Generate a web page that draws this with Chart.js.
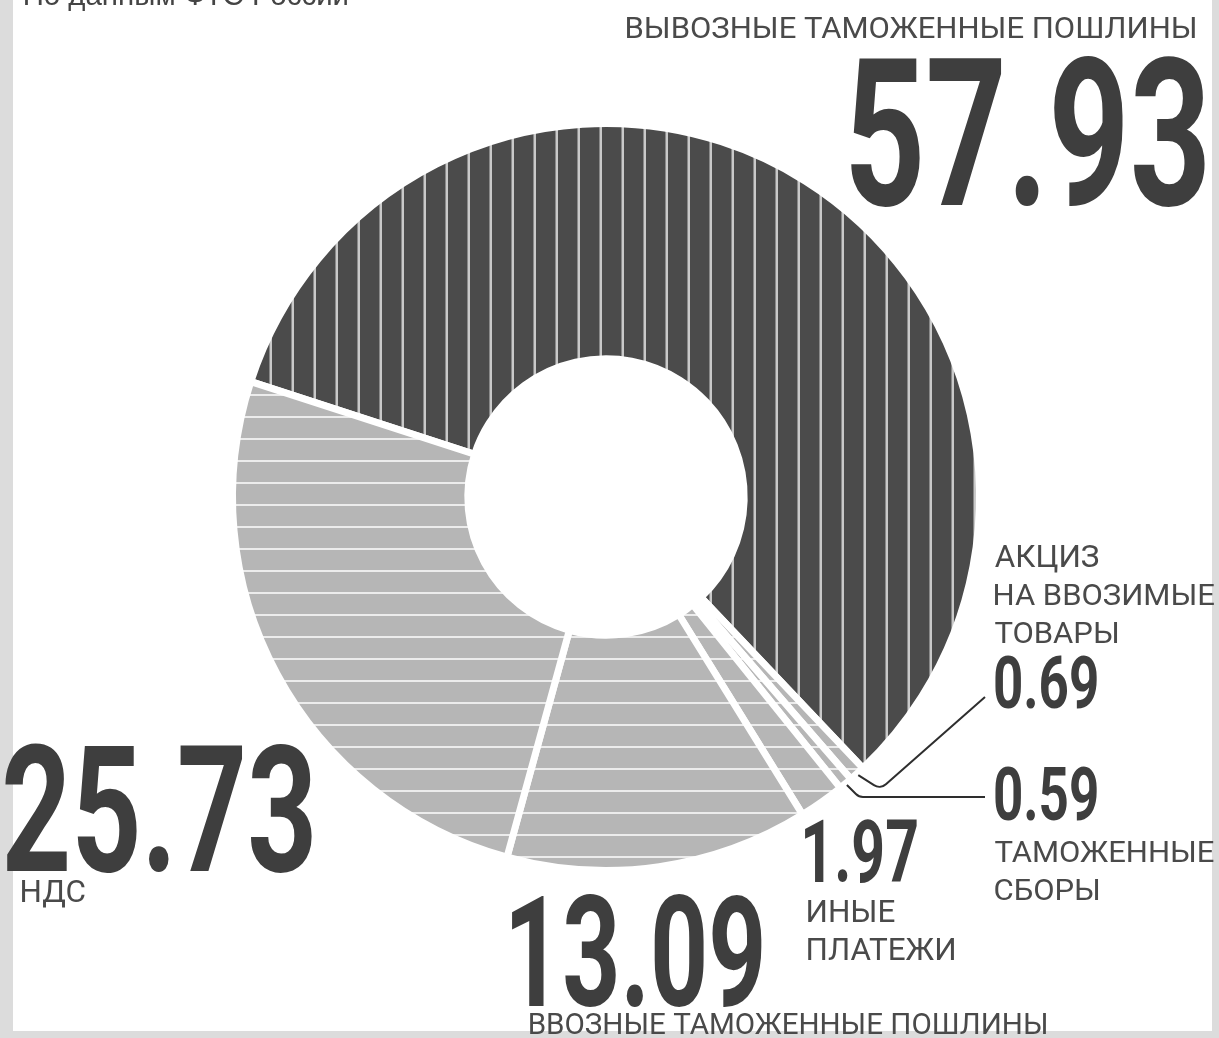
<!DOCTYPE html>
<html lang="ru">
<head>
<meta charset="utf-8">
<title>Таможенные платежи</title>
<script src="https://cdn.jsdelivr.net/npm/chart.js@4.4.1/dist/chart.umd.min.js"></script>
<style>
  html, body { margin: 0; padding: 0; background: #fff; }
  #wrap { width: 1219px; height: 1038px; position: relative; overflow: hidden; }
</style>
</head>
<body>
<div id="wrap"><canvas id="chart" width="1219" height="1038"></canvas></div>
<script>
// Data (shares, %)
const categories = ['Вывозные таможенные пошлины', 'Акциз на ввозимые товары', 'Таможенные сборы', 'Иные платежи', 'Ввозные таможенные пошлины', 'НДС'];
const shares = [57.93, 0.69, 0.59, 1.97, 13.09, 25.73];
const captions = [
  ['ВЫВОЗНЫЕ ТАМОЖЕННЫЕ ПОШЛИНЫ'],
  ['АКЦИЗ', 'НА ВВОЗИМЫЕ', 'ТОВАРЫ'],
  ['ТАМОЖЕННЫЕ', 'СБОРЫ'],
  ['ИНЫЕ', 'ПЛАТЕЖИ'],
  ['ВВОЗНЫЕ ТАМОЖЕННЫЕ ПОШЛИНЫ'],
  ['НДС']
];
const sourceNote = 'По данным ФТС России';

// Where the texts sit (baseline y, cap height, width)
const numberPos = [
  { x: 1205, y: 205, cap: 150, w: 354, align: 'right' },
  { x: 995, y: 708, cap: 53, w: 102 },
  { x: 995, y: 820, cap: 54, w: 102 },
  { x: 805, y: 882, cap: 64, w: 112 },
  { x: 512, y: 1006, cap: 113, w: 250 },
  { x: 5, y: 871, cap: 128, w: 307 }
];
const captionPos = [
  { x: 1195, y: 38, align: 'right' },
  { x: 995, y: 567 },
  { x: 995, y: 862 },
  { x: 808, y: 922 },
  { x: 530, y: 1034, w: 516 },
  { x: 22, y: 902 }
];
const CAPTION_CAP = 22;
const CAPTION_GAP = 38;
const NUM_FONT = '700 100px Roboto, "Liberation Sans", sans-serif';
const CAP_FONT = '400 100px Roboto, "Liberation Sans", sans-serif';

const canvas = document.getElementById('chart');
const ctx = canvas.getContext('2d');

function stripes(base, line, vertical) {
  const c = document.createElement('canvas');
  c.width = 22; c.height = 22;
  const g = c.getContext('2d');
  g.fillStyle = base;
  g.fillRect(0, 0, 22, 22);
  g.fillStyle = line;
  if (vertical) g.fillRect(5.5, 0, 2.5, 22);
  else g.fillRect(0, 20, 22, 2);
  return ctx.createPattern(c, 'repeat');
}
const darkFill = stripes('#4b4b4b', '#c9c9c9', true);
const lightFill = stripes('#b6b6b6', '#ececec', false);

// natural size of a string at 100px
function box(c, font, text) {
  c.font = font;
  const m = c.measureText(text);
  return { left: m.actualBoundingBoxLeft, w: m.actualBoundingBoxLeft + m.actualBoundingBoxRight, asc: m.actualBoundingBoxAscent };
}

// draw text with given cap height; either fit to a width or squeeze by sx
function drawText(c, font, text, x, y, cap, sx, width, align, color) {
  const b = box(c, font, text);
  const sy = cap / b.asc;
  const kx = width ? width / b.w : sx * sy;
  const w = b.w * kx;
  const left = align === 'right' ? x - w : x;
  c.save();
  c.fillStyle = color;
  c.translate(left, y);
  c.scale(kx, sy);
  c.textBaseline = 'alphabetic';
  c.fillText(text, b.left, 0);
  c.restore();
}

const pagePlugin = {
  id: 'page',
  beforeDraw(chart) {
    const c = chart.ctx;
    c.save();
    c.fillStyle = '#dcdcdc';
    c.fillRect(0, 0, chart.width, chart.height);
    c.fillStyle = '#ffffff';
    c.fillRect(13, 0, 1199, 1031);
    c.restore();
  }
};

const labelsPlugin = {
  id: 'labels',
  afterDraw(chart) {
    const c = chart.ctx;
    const cb = box(c, CAP_FONT, captions[0][0]);
    const capSx = (568 / CAPTION_CAP) / (cb.w / cb.asc);

    shares.forEach((v, i) => {
      const p = numberPos[i];
      drawText(c, NUM_FONT, v.toFixed(2), p.x, p.y, p.cap, 0, p.w, p.align, '#3e3e3e');
      const q = captionPos[i];
      captions[i].forEach((line, k) => {
        drawText(c, CAP_FONT, line, q.x, q.y + k * CAPTION_GAP, CAPTION_CAP, capSx, q.w, q.align, '#4a4a4a');
      });
    });

    // source note (cut by the top edge)
    drawText(c, '400 100px "Liberation Sans", sans-serif', sourceNote, 25, 5, 21, 0, 322, 'left', '#444');

    // leader lines for the two small slices
    const arcs = chart.getDatasetMeta(0).data;
    const tip = (el) => {
      const a = (el.startAngle + el.endAngle) / 2;
      const r = el.outerRadius + 2;
      return { x: el.x + Math.cos(a) * r, y: el.y + Math.sin(a) * r };
    };
    c.save();
    c.strokeStyle = '#2e2e2e';
    c.lineWidth = 2;
    c.lineJoin = 'round';
    // 0.69
    let p = tip(arcs[1]);
    c.beginPath();
    c.moveTo(p.x, p.y);
    c.arcTo(p.x + 22, p.y + 14, 985, 697, 10);
    c.lineTo(985, 697);
    c.stroke();
    // 0.59
    p = tip(arcs[2]);
    const ey = 797;
    c.beginPath();
    c.moveTo(p.x, p.y);
    c.arcTo(p.x + (ey - p.y), ey, 985, ey, 10);
    c.lineTo(985, ey);
    c.stroke();
    c.restore();
  }
};

new Chart(ctx, {
  type: 'doughnut',
  data: {
    labels: categories,
    datasets: [{
      data: shares,
      backgroundColor: shares.map((v, i) => i === 0 ? darkFill : lightFill),
      borderColor: '#ffffff',
      borderWidth: 7,
      hoverOffset: 0
    }]
  },
  options: {
    responsive: false,
    animation: false,
    events: [],
    rotation: 288,
    cutout: '37%',
    layout: { padding: { left: 229, right: 236, top: 120, bottom: 164 } },
    plugins: {
      legend: { display: false },
      tooltip: { enabled: false }
    }
  },
  plugins: [pagePlugin, labelsPlugin]
});
</script>
</body>
</html>
